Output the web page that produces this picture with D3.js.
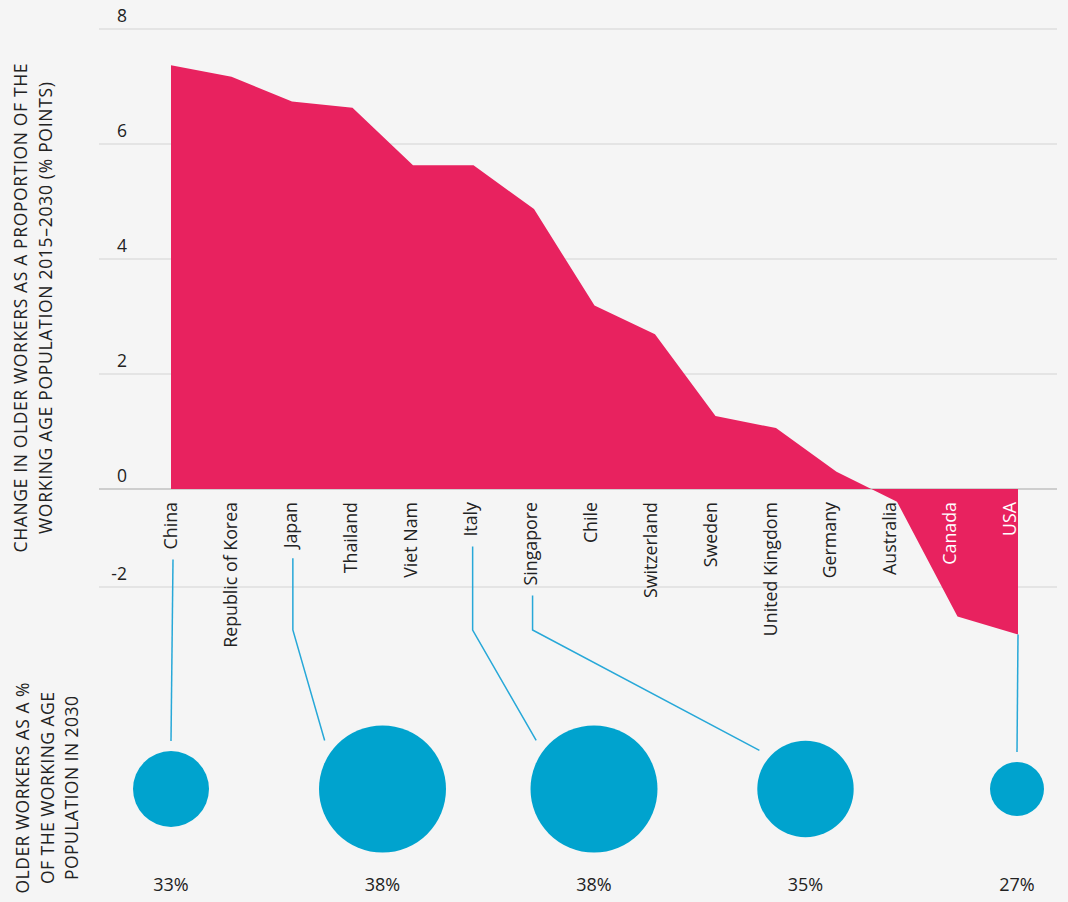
<!DOCTYPE html>
<html>
<head>
<meta charset="utf-8">
<script src="https://cdn.jsdelivr.net/npm/d3@7/dist/d3.min.js"></script>
<style>
  html, body { margin: 0; padding: 0; background: #f5f5f5; }
  svg { display: block; font-family: "Open Sans", "Noto Sans", sans-serif; }
</style>
</head>
<body>
<svg id="chart" width="1068" height="902"></svg>
<script>
// ---- data ----
const countries = ["China", "Republic of Korea", "Japan", "Thailand", "Viet Nam", "Italy", "Singapore",
  "Chile", "Switzerland", "Sweden", "United Kingdom", "Germany", "Australia", "Canada", "USA"];
const changeValues = [7.37, 7.17, 6.74, 6.63, 5.63, 5.63, 4.87, 3.19, 2.69, 1.27, 1.06, 0.30, -0.26, -2.6, -2.97];
const yTicks = [8, 6, 4, 2, 0, -2];
const bubbleCountries = ["China", "Japan", "Italy", "Singapore", "USA"];
const bubbleValues = [33, 38, 38, 35, 27];
const whiteLabels = ["Canada", "USA"];
const yTitleLines = ["CHANGE IN OLDER WORKERS AS A PROPORTION OF THE", "WORKING AGE POPULATION 2015\u20132030 (% POINTS)"];
const bTitleLines = ["OLDER WORKERS AS A %", "OF THE WORKING AGE", "POPULATION IN 2030"];

// ---- setup ----
const svg = d3.select("#chart");
const pink = "#e8225f", blue = "#00a3ce", lineBlue = "#27a8d8";

const x = d3.scalePoint().domain(countries).range([171, 1010]);      // label positions
const xArea = x.copy().range([171, 1018]);                            // area vertices
const y = d3.scaleLinear().domain([-2, 0, 8]).range([587, 489, 29]);
const bx = d3.scalePoint().domain(bubbleCountries).range([171, 1017]);
const r = d3.scaleLinear().domain([27, 33, 38]).range([27, 38, 63.5]);
const bubbleCY = 789;

// gridlines
svg.append("g").selectAll("line").data(yTicks).join("line")
  .attr("x1", 99).attr("x2", 1057)
  .attr("y1", d => y(d)).attr("y2", d => y(d))
  .attr("stroke", d => d === 0 ? "#a8a8a8" : "#d4d4d4")
  .attr("stroke-width", 1.2);

// tick labels
svg.append("g").selectAll("text").data(yTicks).join("text")
  .attr("x", 127).attr("y", d => y(d) - 7)
  .attr("text-anchor", "end")
  .attr("font-size", 17.5).attr("fill", "#222")
  .text(d => d);

// area
const series = countries.map((c, i) => ({ c, v: changeValues[i] }));
const area = d3.area().x(d => xArea(d.c)).y0(y(0)).y1(d => y(d.v));
svg.append("path").datum(series).attr("d", area).attr("fill", pink);

// country labels
const labels = svg.append("g").selectAll("text").data(countries).join("text")
  .attr("transform", d => `translate(${x(d)},502) rotate(-90)`)
  .attr("dy", "0.35em")
  .attr("text-anchor", "end")
  .attr("font-size", 17.8)
  .attr("fill", d => whiteLabels.includes(d) ? "#fff" : "#222")
  .text(d => d);

const labelLen = {};
labels.each(function(d) { labelLen[d] = this.getComputedTextLength(); });

// connectors
const conn = svg.append("g");
bubbleCountries.forEach((c, i) => {
  const isNeg = whiteLabels.includes(c);
  const lx = isNeg ? xArea(c) : x(c) + 2, cx = bx(c), rr = r(bubbleValues[i]);
  const startY = isNeg ? y(changeValues[countries.indexOf(c)]) : 502 + labelLen[c] + 10;
  let pts;
  if (Math.abs(lx - cx) < 8) {
    pts = [[lx, startY], [cx, bubbleCY - rr - 10]];
  } else {
    const ang = 50 * Math.PI / 180, dist = rr + 12;
    pts = [[lx, startY], [lx, 630], [cx - dist * Math.sin(ang), bubbleCY - dist * Math.cos(ang)]];
  }
  conn.append("path").attr("d", d3.line()(pts))
    .attr("fill", "none").attr("stroke", lineBlue).attr("stroke-width", 1.5);
});

// bubbles
svg.append("g").selectAll("circle").data(bubbleCountries).join("circle")
  .attr("cx", d => bx(d)).attr("cy", bubbleCY)
  .attr("r", (d, i) => r(bubbleValues[i]))
  .attr("fill", blue);

svg.append("g").selectAll("text").data(bubbleCountries).join("text")
  .attr("x", d => bx(d)).attr("y", 891)
  .attr("text-anchor", "middle").attr("font-size", 18).attr("fill", "#222")
  .text((d, i) => bubbleValues[i] + "%");

// axis titles
const yTitleLen = [489, 452];
svg.append("g").selectAll("text").data(yTitleLines).join("text")
  .attr("transform", (d, i) => `translate(${21 + i * 24.5},308) rotate(-90)`)
  .attr("dy", "0.35em").attr("text-anchor", "middle")
  .attr("font-size", 17.5).attr("fill", "#222")
  .attr("textLength", (d, i) => yTitleLen[i]).attr("lengthAdjust", "spacing")
  .text(d => d);

const bTitleLen = [211, 192, 184];
svg.append("g").selectAll("text").data(bTitleLines).join("text")
  .attr("transform", (d, i) => `translate(${23 + i * 24.5},788) rotate(-90)`)
  .attr("dy", "0.35em").attr("text-anchor", "middle")
  .attr("font-size", 17.5).attr("fill", "#222")
  .attr("textLength", (d, i) => bTitleLen[i]).attr("lengthAdjust", "spacing")
  .text(d => d);
</script>
</body>
</html>
